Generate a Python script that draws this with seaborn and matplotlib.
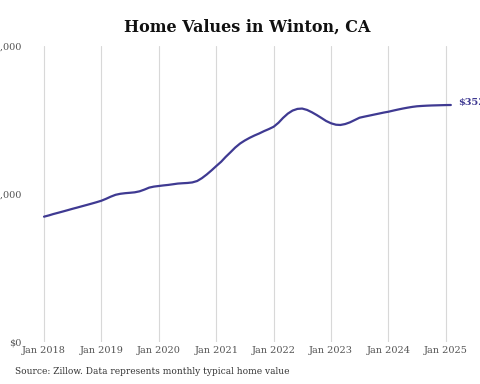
import pandas as pd
import matplotlib
matplotlib.use('Agg')
import matplotlib.pyplot as plt
import matplotlib.dates as mdates
import seaborn as sns

# Monthly typical home value, Winton CA (in $1000s)
values_2018 = [186.3, 188.2, 190.2, 192.1, 194.0, 196.0, 198.0, 199.9, 201.9, 203.8, 205.8, 207.8]
values_2019 = [210.0, 213.0, 216.0, 218.8, 220.3, 221.2, 221.8, 222.5, 224.0, 226.5, 229.5, 231.0]
values_2020 = [231.9, 232.8, 233.5, 234.5, 235.5, 236.0, 236.4, 237.2, 239.3, 243.5, 249.0, 255.0]
values_2021 = [261.6, 268.0, 275.0, 282.0, 289.0, 295.0, 299.5, 303.5, 307.0, 310.0, 313.5, 316.5]
values_2022 = [320.0, 326.0, 333.0, 339.5, 344.0, 346.5, 347.0, 345.0, 341.5, 337.5, 333.0, 328.5]
values_2023 = [325.1, 323.0, 322.6, 324.0, 326.5, 330.0, 333.4, 335.0, 336.5, 338.0, 339.5, 341.0]
values_2024 = [342.3, 344.0, 345.5, 347.0, 348.3, 349.5, 350.4, 350.9, 351.3, 351.6, 351.8, 352.0]
values_2025 = [352.2, 352.3]

all_values = (values_2018 + values_2019 + values_2020 + values_2021 +
              values_2022 + values_2023 + values_2024 + values_2025)
dates = pd.date_range('2018-01-01', periods=len(all_values), freq='MS')
df = pd.DataFrame({'Date': dates, 'Value': [v * 1000 for v in all_values]})

y_ticks = [0, 220000, 440000]
y_labels = ['$0', '$220,000', '$440,000']
x_ticks = pd.date_range('2018-01-01', '2025-01-01', freq='YS')
last_label = '$352,300'

line_color = '#3f3a92'
text_color = '#555555'

sns.set_style('white')
plt.rcParams['font.family'] = ['DejaVu Serif']

fig = plt.figure(figsize=(4.8, 3.84), dpi=100)
W, H = 480, 384
ax = fig.add_axes([28 / W, (H - 342) / H, (462 - 28) / W, (342 - 46) / H])

sns.lineplot(data=df, x='Date', y='Value', ax=ax, color=line_color, linewidth=1.6)

ax.set_xlim(pd.Timestamp('2018-01-01') - pd.Timedelta(days=102),
            pd.Timestamp('2025-01-01') + pd.Timedelta(days=102))
ax.set_ylim(0, 440000)
ax.set_xticks(x_ticks)
ax.xaxis.set_major_formatter(mdates.DateFormatter('Jan %Y'))
ax.set_yticks(y_ticks)
ax.set_yticklabels(y_labels)
ax.tick_params(axis='both', length=0, labelsize=7, colors=text_color)
ax.tick_params(axis='y', pad=5)
ax.tick_params(axis='x', pad=3)
ax.grid(axis='x', color='#d8d8d8', linewidth=0.8)
ax.grid(axis='y', visible=False)
for s in ax.spines.values():
    s.set_visible(False)
ax.set_xlabel('')
ax.set_ylabel('')

last = df.iloc[-1]
ax.annotate(last_label, xy=(last['Date'], last['Value']), xytext=(5, 1.5),
            textcoords='offset points', fontsize=7, fontweight='bold',
            color=line_color, va='center', ha='left', annotation_clip=False)

fig.text(247 / W, 1 - 27 / H, 'Home Values in Winton, CA', ha='center', va='center',
         fontsize=11.5, fontweight='bold', color='#111111')
fig.text(15 / W, 1 - 372 / H, 'Source: Zillow. Data represents monthly typical home value',
         ha='left', va='center', fontsize=6.5, color='#333333')

fig.savefig('out.png', dpi=100)
